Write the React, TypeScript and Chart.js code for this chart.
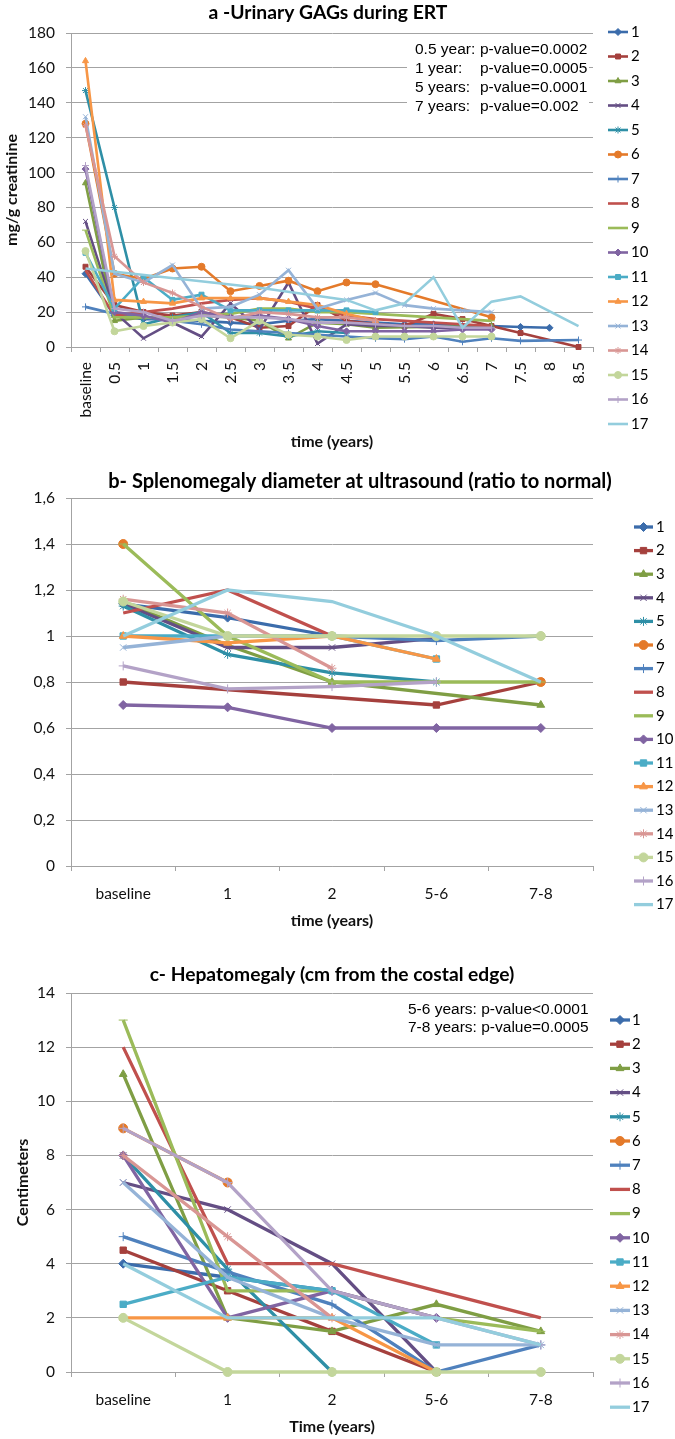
import React, { useEffect, useRef } from 'react';
import { Chart, registerables } from 'chart.js';
import { drawPoint } from 'chart.js/helpers';

Chart.register(...registerables);

// ---------- shared series look ----------
const PATIENTS = ['1', '2', '3', '4', '5', '6', '7', '8', '9', '10', '11', '12', '13', '14', '15', '16', '17'];
const COLORS = ['#3B6CAB', '#A5403D', '#7F9E44', '#644E84', '#2E8FA6', '#E47A2A', '#4F81BD', '#C0504D', '#9BBB59',
  '#8064A2', '#4BACC6', '#F79646', '#95B3D7', '#D99694', '#C3D69B', '#B3A2C7', '#93CDDD'];
const MARKERS: (string | false)[] = ['rectRot', 'rect', 'triangle', 'crossRot', 'star', 'circle', 'cross', false, 'line',
  'rectRot', 'rect', 'triangle', 'crossRot', 'star', 'circle', 'cross', false];

// ---------- panel a: urinary GAGs ----------
const GAG_TIMES = ['baseline', '0.5', '1', '1.5', '2', '2.5', '3', '3.5', '4', '4.5', '5', '5.5', '6', '6.5', '7', '7.5', '8', '8.5'];
const GAG_Y_MAX = 180;
const GAG_Y_STEP = 20;
const gag1 = [42, 18, 16, 16, 15, 14, 13, 15, 16, 15, 14, 13, 13, 12, 12, 11.5, 11, null];
const gag2 = [46, 24, 20, 18, 20, 17, 11, 12, 24, 15, 13, 12, 19, 16, 12, 8, null, 0];
const gag3 = [94, 15, 17, 16, 18, 17, 15, 5, 14, 13, 11, null, null, null, 12, null, null, null];
const gag4 = [72, 20, 5, 14, 6, 25, 10, 37, 2, 13, 12, 12, 11, 11, 11, null, null, null];
const gag5 = [147, 80, 13, 17, 20, 8, 8, 6, 9, 8, null, null, null, null, null, null, null, null];
const gag6 = [128, 42, 39, 45, 46, 32, 35, 38, 32, 37, 36, null, null, null, 17, null, null, null];
const gag7 = [23, 19, 17, 15, 13, 10, 9, 8, 7, 6, 5, 4.5, 6, 3, 5, 3.5, null, 4];
const gag8 = [44, 18, 20, 22, 25, 27, 28, 26, 22, 18, 16, 15, 14, 13, 12, null, null, null];
const gag9 = [67, 17, 17, 17, 18, 19, 22, 22, 20, 20, 19, 18, 17, 16, 15, null, null, null];
const gag10 = [102, 20, 18, 14, 20, 17, 18, 16, 12, 9, 9, 9, 9, 10, 10, null, null, null];
const gag11 = [54, 22, 40, 27, 30, 21, 21, 21, 21, 21, 20, null, null, null, null, null, null, null];
const gag12 = [164, 27, 26, 25, 28, 28, 28, 26, 24, 19, 15, null, null, null, null, null, null, null];
const gag13 = [132, 42, 37, 47, 22, 23, 30, 44, 22, 27, 31, 24, 22, 21, 20, null, null, null];
const gag14 = [127, 52, 37, 31, 23, 16, 20, 19, 17, 17, 15, null, null, null, null, null, null, null];
const gag15 = [55, 9, 12, 14, 16, 5, 15, 7, 6, 4, 6, 6, 6, 6, 6, null, null, null];
const gag16 = [104, 22, 20, 15, 18, 17, 17, 16, 14, 14, 13, 12, 12, 11, 11, null, null, null];
const gag17 = [45, null, null, null, null, null, 34, null, null, 27, 21, 25, 40, 11, 26, 29, null, 12];
const GAG_NOTE_LABELS = ['0.5 year:', '1 year:', '5 years:', '7 years:'];
const GAG_NOTE_VALUES = ['p-value=0.0002', 'p-value=0.0005', 'p-value=0.0001', 'p-value=0.002'];

// ---------- panel b: splenomegaly ----------
const SPLEEN_TIMES = ['baseline', '1', '2', '5-6', '7-8'];
const SPLEEN_Y_MAX = 1.6;
const SPLEEN_Y_STEP = 0.2;
const sp1 = [1.14, 1.08, 1.0, null, null];
const sp2 = [0.8, null, null, 0.7, 0.8];
const sp3 = [1.15, 0.96, 0.8, null, 0.7];
const sp4 = [1.14, 0.95, 0.95, 0.99, null];
const sp5 = [1.13, 0.92, 0.84, 0.8, null];
const sp6 = [1.4, null, null, null, 0.8];
const sp7 = [null, null, 1.0, 0.98, 1.0];
const sp8 = [1.1, 1.2, 1.0, null, null];
const sp9 = [1.4, 1.0, 0.8, 0.8, 0.8];
const sp10 = [0.7, 0.69, 0.6, 0.6, 0.6];
const sp11 = [1.0, 1.0, 1.0, 0.9, null];
const sp12 = [1.0, 0.97, 1.0, 0.9, null];
const sp13 = [0.95, 1.0, 1.0, null, null];
const sp14 = [1.16, 1.1, 0.86, null, null];
const sp15 = [1.15, 1.0, 1.0, 1.0, 1.0];
const sp16 = [0.87, 0.77, 0.78, 0.8, null];
const sp17 = [1.0, 1.2, 1.15, 1.0, 0.8];

// ---------- panel c: hepatomegaly ----------
const LIVER_TIMES = ['baseline', '1', '2', '5-6', '7-8'];
const LIVER_Y_MAX = 14;
const LIVER_Y_STEP = 2;
const lv1 = [4, 3.5, 3, null, null];
const lv2 = [4.5, 3, 1.5, 0, null];
const lv3 = [11, 2, 1.5, 2.5, 1.5];
const lv4 = [7, 6, 4, 0, null];
const lv5 = [8, 3.8, 0, null, null];
const lv6 = [9, 7, null, null, null];
const lv7 = [5, 3.7, 2.5, 0, 1];
const lv8 = [12, 4, 4, 3, 2];
const lv9 = [13, 3, 3, 2, 1.5];
const lv10 = [8, 2, 3, 2, null];
const lv11 = [2.5, 3.5, 3, 1, null];
const lv12 = [2, 2, 2, 0, null];
const lv13 = [7, 3.5, 2, 1, 1];
const lv14 = [8, 5, 2, null, null];
const lv15 = [2, 0, 0, 0, 0];
const lv16 = [9, 7, 3, 2, 1];
const lv17 = [4, 2, 2, 2, 1];
const LIVER_NOTE_LABELS = ['5-6 years: p-value<0.0001', '7-8 years: p-value=0.0005'];

const GRID = '#A3A3A3';
const TEXT = '#111111';

type Series = (number | null)[];
type Note = { text: string; x: number; y: number };
type Spec = {
  height: number;
  categories: string[];
  series: Series[];
  noGap: number[];
  yMax: number;
  yStep: number;
  fmt: (v: number) => string;
  yTitle: string;
  yTitlePad: number;
  xTitle: string;
  xTitlePad: number;
  title: string;
  titleCx: number;
  titleCy: number;
  titleW: number;
  notes: Note[];
  noteBox: null | { x: number; y: number; w: number; h: number };
  legend: { x1: number; x2: number; tx: number; y0: number; dy: number };
  areaTop: number;
  xAxisH: number;
  rot: number;
  xPad: number;
  r: number;
  lw: number;
};

const SPECS: Spec[] = [
  {
    height: 460,
    categories: GAG_TIMES,
    series: [gag1, gag2, gag3, gag4, gag5, gag6, gag7, gag8, gag9, gag10, gag11, gag12, gag13, gag14, gag15, gag16, gag17],
    noGap: [],
    yMax: GAG_Y_MAX,
    yStep: GAG_Y_STEP,
    fmt: (v) => String(Math.round(v)),
    yTitle: 'mg/g creatinine',
    yTitlePad: 2.4,
    xTitle: 'time (years)',
    xTitlePad: 8.4,
    title: 'a -Urinary GAGs during ERT',
    titleCx: 328,
    titleCy: 13,
    titleW: 239,
    notes: [
      ...GAG_NOTE_LABELS.map((t, i) => ({ text: t, x: 415, y: 50 + 19 * i })),
      ...GAG_NOTE_VALUES.map((t, i) => ({ text: t, x: 480, y: 50 + 19 * i })),
    ],
    noteBox: { x: 407, y: 40, w: 182, h: 77 },
    legend: { x1: 608, x2: 628, tx: 631, y0: 32, dy: 24.5 },
    areaTop: 33,
    xAxisH: 113,
    rot: 90,
    xPad: 10,
    r: 3.5,
    lw: 2.6,
  },
  {
    height: 470,
    categories: SPLEEN_TIMES,
    series: [sp1, sp2, sp3, sp4, sp5, sp6, sp7, sp8, sp9, sp10, sp11, sp12, sp13, sp14, sp15, sp16, sp17],
    noGap: [5],
    yMax: SPLEEN_Y_MAX,
    yStep: SPLEEN_Y_STEP,
    fmt: (v) => String(Math.round(v * 10) / 10).replace('.', ','),
    yTitle: '',
    yTitlePad: 4,
    xTitle: 'time (years)',
    xTitlePad: 0,
    title: 'b- Splenomegaly diameter at ultrasound (ratio to normal)',
    titleCx: 360,
    titleCy: 22,
    titleW: 504,
    notes: [],
    noteBox: null,
    legend: { x1: 634, x2: 653, tx: 656, y0: 67, dy: 23.6 },
    areaTop: 38,
    xAxisH: 64,
    rot: 0,
    xPad: 14,
    r: 4.5,
    lw: 3.3,
  },
  {
    height: 509,
    categories: LIVER_TIMES,
    series: [lv1, lv2, lv3, lv4, lv5, lv6, lv7, lv8, lv9, lv10, lv11, lv12, lv13, lv14, lv15, lv16, lv17],
    noGap: [5],
    yMax: LIVER_Y_MAX,
    yStep: LIVER_Y_STEP,
    fmt: (v) => String(Math.round(v)),
    yTitle: 'Centimeters',
    yTitlePad: 13.4,
    xTitle: 'Time (years)',
    xTitlePad: 2.4,
    title: 'c- Hepatomegaly (cm from the costal edge)',
    titleCx: 332,
    titleCy: 45,
    titleW: 365,
    notes: LIVER_NOTE_LABELS.map((t, i) => ({ text: t, x: 408, y: 80 + 18 * i })),
    noteBox: null,
    legend: { x1: 610, x2: 630, tx: 632, y0: 90, dy: 24.2 },
    areaTop: 63,
    xAxisH: 67,
    rot: 0,
    xPad: 14,
    r: 4.5,
    lw: 3.3,
  },
];

function decor(spec: Spec) {
  return {
    id: 'decor',
    afterDraw(chart: any) {
      const ctx: CanvasRenderingContext2D = chart.ctx;
      ctx.save();
      // title fitted to the measured width
      ctx.font = 'bold 20px Lato';
      const w = ctx.measureText(spec.title).width;
      const size = (20 * spec.titleW) / w;
      ctx.font = `bold ${size}px Lato`;
      ctx.fillStyle = '#000';
      ctx.textAlign = 'center';
      ctx.textBaseline = 'middle';
      ctx.fillText(spec.title, spec.titleCx, spec.titleCy);
      // notes
      if (spec.noteBox) {
        ctx.fillStyle = '#fff';
        ctx.fillRect(spec.noteBox.x, spec.noteBox.y, spec.noteBox.w, spec.noteBox.h);
      }
      ctx.fillStyle = '#000';
      ctx.textAlign = 'left';
      ctx.font = '15.5px "Liberation Sans"';
      spec.notes.forEach((n) => ctx.fillText(n.text, n.x, n.y));
      // legend
      const L = spec.legend;
      chart.data.datasets.forEach((ds: any, i: number) => {
        const y = L.y0 + L.dy * i;
        const c = COLORS[i];
        ctx.strokeStyle = c;
        ctx.lineWidth = spec.lw;
        ctx.beginPath();
        ctx.moveTo(L.x1, y);
        ctx.lineTo(L.x2, y);
        ctx.stroke();
        const m = MARKERS[i];
        if (m) {
          ctx.fillStyle = c;
          ctx.strokeStyle = c;
          ctx.lineWidth = 1;
          drawPoint(ctx, { pointStyle: m as any, radius: spec.r, rotation: 0, borderWidth: 1 } as any, (L.x1 + L.x2) / 2, y);
        }
        ctx.fillStyle = '#000';
        ctx.font = '15px Lato';
        ctx.textAlign = 'left';
        ctx.textBaseline = 'middle';
        ctx.fillText(ds.label, L.tx, y);
      });
      ctx.restore();
    },
  };
}

function buildConfig(spec: Spec): any {
  return {
    type: 'line',
    data: {
      labels: spec.categories,
      datasets: spec.series.map((data, i) => ({
        label: PATIENTS[i],
        data,
        borderColor: COLORS[i],
        backgroundColor: COLORS[i],
        pointBackgroundColor: COLORS[i],
        pointBorderColor: COLORS[i],
        pointStyle: MARKERS[i] || 'circle',
        pointRadius: MARKERS[i] ? spec.r : 0,
        pointBorderWidth: 1,
        borderWidth: spec.lw,
        spanGaps: !spec.noGap.includes(i),
        order: 20 - i,
        tension: 0,
        clip: false,
      })),
    },
    options: {
      animation: false,
      responsive: false,
      events: [],
      layout: { padding: { top: spec.areaTop, right: 675 - 593, left: 0, bottom: 0 } },
      plugins: { legend: { display: false }, tooltip: { enabled: false }, title: { display: false } },
      scales: {
        x: {
          type: 'category',
          offset: true,
          grid: { offset: true, drawOnChartArea: false, drawTicks: true, tickLength: 5, color: GRID },
          border: { color: GRID, width: 1 },
          ticks: {
            autoSkip: false,
            minRotation: spec.rot,
            maxRotation: spec.rot,
            padding: spec.xPad,
            color: TEXT,
            font: { family: 'Lato', size: 15.5 },
          },
          title: {
            display: true,
            text: spec.xTitle,
            color: TEXT,
            font: { family: 'Lato', size: 16, weight: 'bold' },
            padding: { top: 0, bottom: spec.xTitlePad },
          },
          afterFit: (s: any) => {
            s.height = spec.xAxisH;
          },
        },
        y: {
          min: 0,
          max: spec.yMax,
          grid: { color: GRID, drawTicks: true, tickLength: 5 },
          border: { color: GRID, width: 1 },
          ticks: {
            stepSize: spec.yStep,
            padding: 11,
            color: TEXT,
            font: { family: 'Lato', size: 15.5 },
            callback: (v: any) => spec.fmt(Number(v)),
          },
          title: {
            display: spec.yTitle !== '',
            text: spec.yTitle,
            color: TEXT,
            font: { family: 'Lato', size: 16, weight: 'bold' },
            padding: { top: spec.yTitlePad, bottom: 0 },
          },
          afterFit: (s: any) => {
            s.width = 71;
          },
        },
      },
    },
    plugins: [decor(spec)],
  };
}

function Panel({ spec, top }: { spec: Spec; top: number }) {
  const ref = useRef<HTMLCanvasElement>(null);
  useEffect(() => {
    if (!ref.current) return;
    const chart = new Chart(ref.current, buildConfig(spec));
    return () => chart.destroy();
  }, [spec]);
  return (
    <canvas
      ref={ref}
      width={675}
      height={spec.height}
      style={{ position: 'absolute', left: 0, top, width: 675, height: spec.height, display: 'block' }}
    />
  );
}

export default function App() {
  const tops = [0, 460, 930];
  return (
    <div style={{ position: 'absolute', left: 0, top: 0, width: 675, height: 1439, background: '#fff', overflow: 'hidden' }}>
      {SPECS.map((s, i) => (
        <Panel key={i} spec={s} top={tops[i]} />
      ))}
    </div>
  );
}
